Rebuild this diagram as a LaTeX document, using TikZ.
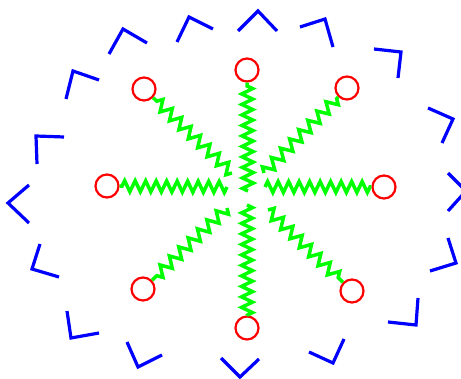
\documentclass[tikz,border=0pt]{standalone}
\usepackage{xcolor}
\usepackage{tikz}
\usetikzlibrary{decorations.pathmorphing}
\definecolor{WallBlue}{HTML}{0000FF}
\definecolor{BeadRed}{HTML}{FF0000}
\definecolor{SpringGreen}{HTML}{00FF00}
\tikzset{
  bead/.style={circle,draw=BeadRed,line width=2.2pt,minimum size=23pt,inner sep=0pt},
  spring/.style={draw=SpringGreen,line width=3.5pt,line join=miter,decorate,decoration={zigzag,segment length=10.5pt,amplitude=5.5pt}},
  diagspring/.style={spring,decoration={zigzag,segment length=13pt,amplitude=5.5pt}},
  wallmark/.style={draw=WallBlue,line width=3.2pt}
}
\begin{document}
\begin{tikzpicture}[x=1pt,y=-1pt]
  \clip (0,0) rectangle (461,379);
  % boundary marks
  \foreach \ax/\ay/\bx/\by/\cx/\cy in {
    238/31/258/11/277/31, 177/42/189/17/213/29, 109/54/123/29/147/43,
    66/99/73/71/99/80, 37/164/36/136/64/137, 29/185/8/203/29/223,
    40/244/32/269/59/277, 67/311/71/338/99/333, 127/342/138/367/162/355,
    221/358/240/377/259/359, 309/352/333/363/344/339, 388/322/416/325/418/298,
    430/271/456/263/448/238, 448/173/466/191/448/211, 442/143/453/119/428/108,
    374/49/401/52/398/78, 300/27/325/19/333/47}
    \draw[wallmark] (\ax,\ay)--(\bx,\by)--(\cx,\cy);
  % beads
  \node[bead] (n) at (247,70) {};
  \node[bead] (ne) at (347,88) {};
  \node[bead] (e) at (384,187) {};
  \node[bead] (se) at (352,291) {};
  \node[bead] (s) at (247,328) {};
  \node[bead] (sw) at (143,289) {};
  \node[bead] (w) at (107,186) {};
  \node[bead] (nw) at (144,89) {};
  % inner spring ends
  \coordinate (in-n) at (248,191);
  \coordinate (in-ne) at (264,173);
  \coordinate (in-e) at (265,187);
  \coordinate (in-se) at (268,210);
  \coordinate (in-s) at (247,205);
  \coordinate (in-sw) at (227,208);
  \coordinate (in-w) at (227,187);
  \coordinate (in-nw) at (232,173);
  % springs
  \draw[spring] (in-n)--(n);
  \draw[diagspring] (in-ne)--(ne);
  \draw[spring] (in-e)--(e);
  \draw[diagspring] (in-se)--(se);
  \draw[spring] (in-s)--(s);
  \draw[diagspring] (in-sw)--(sw);
  \draw[spring] (in-w)--(w);
  \draw[diagspring] (in-nw)--(nw);
\end{tikzpicture}
\end{document}
